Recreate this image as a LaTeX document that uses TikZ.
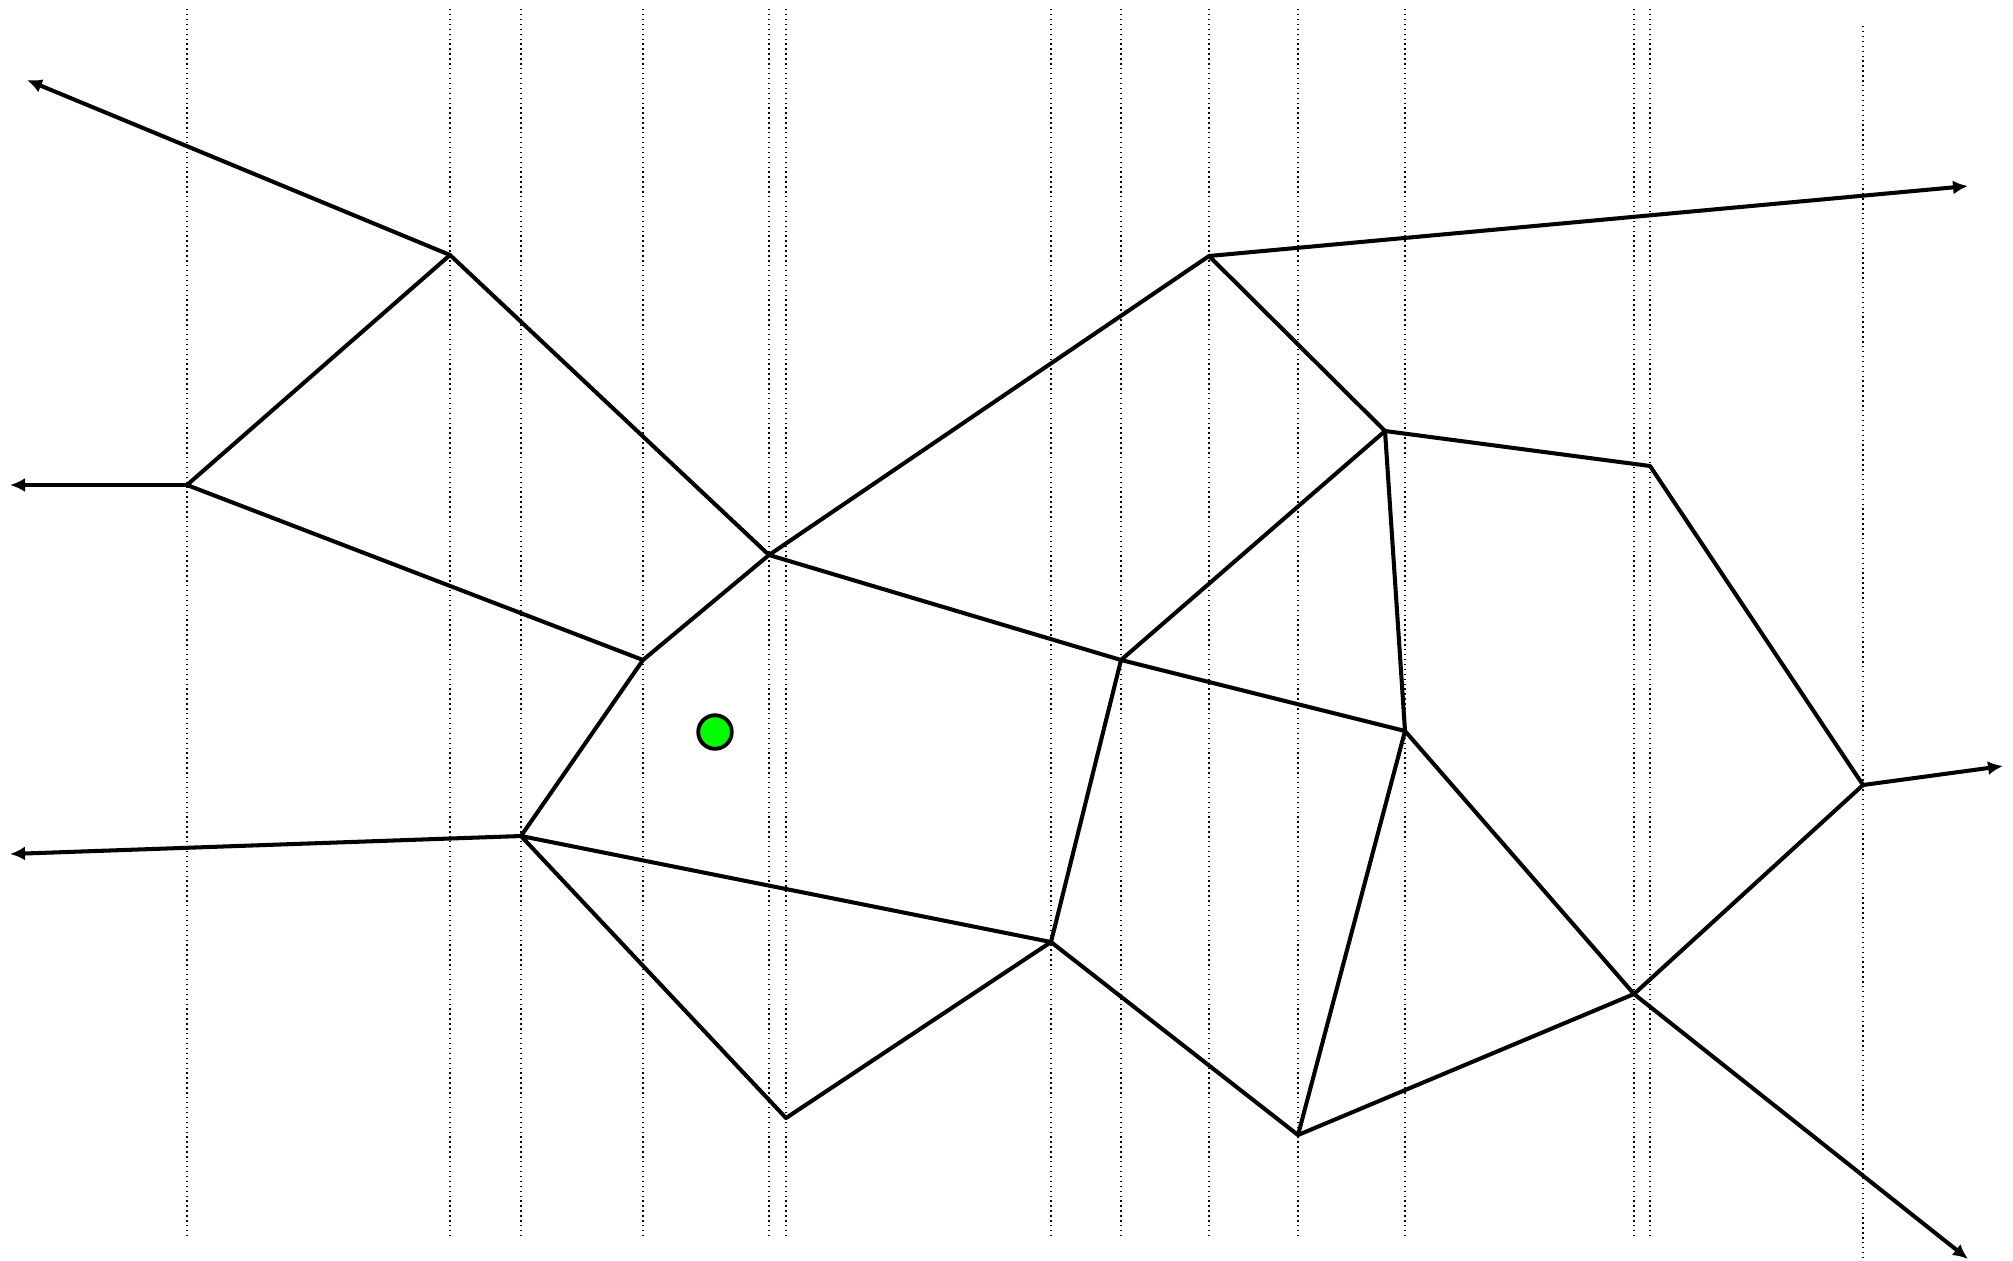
\documentclass[tikz,border=0pt]{standalone}
\usetikzlibrary{arrows.meta}
\tikzset{
  el/.style={line width=1.15pt,line cap=round},
  felegyenes/.style={line width=1.15pt,-{Latex[length=1.5mm,width=1.4mm]}},
  sav/.style={line width=0.4pt,densely dotted},
  lekerdezes/.style={circle,draw,line width=1.1pt,fill=green,minimum size=3.35mm,inner sep=0pt},
}
\begin{document}
\begin{tikzpicture}[x=0.01cm,y=-0.01cm]
  \useasboundingbox (0,0) rectangle (2013,1260);
  % Voronoi csucsok
  \coordinate (A) at (450,255);
  \coordinate (B) at (187,485);
  \coordinate (C) at (769,555);
  \coordinate (D) at (643,660);
  \coordinate (E) at (521,836);
  \coordinate (F) at (1209,256);
  \coordinate (G) at (1385,431);
  \coordinate (H) at (1650,466);
  \coordinate (I) at (1121,660);
  \coordinate (J) at (1405,731);
  \coordinate (K) at (1863,785);
  \coordinate (L) at (1051,942);
  \coordinate (M) at (786,1118);
  \coordinate (N) at (1298,1135);
  \coordinate (O) at (1634,994);
  % felegyenesek vegei
  \coordinate (Av) at (27,80);
  \coordinate (Bv) at (10,485);
  \coordinate (Ev) at (10,854);
  \coordinate (Fv) at (1968,186);
  \coordinate (Kv) at (2003,766);
  \coordinate (Ov) at (1968,1259);
  % savok
  \coordinate (fent) at (0,9);
  \coordinate (lent) at (0,1239);
  \coordinate (Kfent) at (0,26);
  \coordinate (Klent) at (0,1257);
  \foreach \v in {A,B,C,D,E,F,H,I,J,L,M,N,O}
    \draw[sav] (\v |- fent) -- (\v |- lent);
  \draw[sav] (K |- Kfent) -- (K |- Klent);
  % elek
  \draw[el] (A) -- (B) (A) -- (C) (B) -- (D) (C) -- (D) (D) -- (E)
            (C) -- (F) (C) -- (I) (F) -- (G) (G) -- (H) (G) -- (I)
            (G) -- (J) (I) -- (J) (I) -- (L) (E) -- (L) (E) -- (M)
            (M) -- (L) (L) -- (N) (N) -- (J) (J) -- (O) (N) -- (O)
            (H) -- (K) (K) -- (O);
  \foreach \v in {A,B,E,F,K,O}
    \draw[felegyenes] (\v) -- (\v v);
  % lekerdezesi pont
  \node[lekerdezes] (q) at (715,732) {};
\end{tikzpicture}
\end{document}
